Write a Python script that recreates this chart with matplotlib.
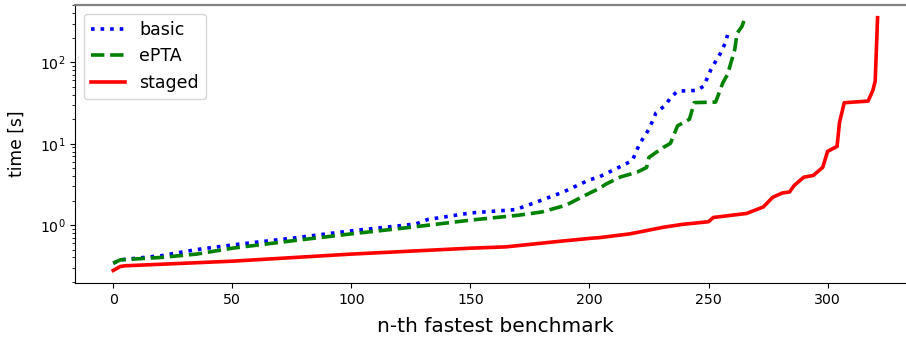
import matplotlib
matplotlib.use("Agg")
import matplotlib.pyplot as plt

# cactus plot: n-th fastest benchmark vs. runtime
basic_x = [0, 3, 20, 35, 50, 75, 100, 127, 132, 150, 169, 178, 189, 200, 204,
           211, 218, 221, 225, 228, 232, 234, 237, 245, 248, 251, 253, 255, 257, 258]
basic_t = [0.34, 0.374, 0.42, 0.50, 0.57, 0.69, 0.85, 1.03, 1.17, 1.41, 1.55, 1.93,
           2.55, 3.6, 3.9, 4.9, 6.2, 9.9, 15.1, 24.1, 29.9, 36.7, 44.3, 45.2, 51,
           81.5, 103, 129, 172, 217]

epta_x = [0, 3, 20, 35, 50, 75, 100, 125, 150, 170, 180, 190, 201, 204, 207, 213,
          220, 224, 225, 231, 234, 237, 242, 244, 253, 256, 258, 261, 262, 264, 265]
epta_t = [0.34, 0.374, 0.40, 0.44, 0.52, 0.64, 0.78, 0.94, 1.15, 1.32, 1.45, 1.75,
          2.55, 2.8, 3.2, 3.9, 4.47, 5.1, 6.8, 9.0, 10.1, 16.6, 20, 32, 32.5, 56,
          71, 143, 228, 275, 331]

staged_x = [0, 3, 5, 50, 100, 150, 165, 187, 201, 204, 217, 231, 239, 250, 252, 266,
            273, 277, 281, 284, 286, 290, 294, 298, 300, 304, 305, 307, 317, 319, 320, 321]
staged_t = [0.277, 0.31, 0.316, 0.36, 0.44, 0.52, 0.54, 0.63, 0.69, 0.70, 0.78, 0.94,
            1.02, 1.10, 1.24, 1.39, 1.67, 2.2, 2.48, 2.55, 3.07, 3.88, 4.07, 5.14, 8.05,
            9.27, 18.2, 31.9, 33.4, 45, 58.7, 354]

fig = plt.figure(figsize=(9.06, 3.37), dpi=100)
# right spine falls outside the picture in the original (cropped figure)
ax = fig.add_axes([0.0828, 0.160, 0.928, 0.825])

ax.plot(basic_x, basic_t, color="blue", linestyle=":", linewidth=2.6, label="basic")
ax.plot(epta_x, epta_t, color="green", linestyle="--", linewidth=2.6, label="ePTA")
ax.plot(staged_x, staged_t, color="red", linestyle="-", linewidth=2.6, label="staged")

ax.set_yscale("log")
ax.set_xlabel("n-th fastest benchmark", fontsize=14.5, labelpad=7)
ax.set_ylabel("time [s]", fontsize=12.3, labelpad=10)
ax.tick_params(labelsize=10.2)
ax.spines["top"].set_color("#808080")
ax.spines["top"].set_linewidth(1.6)
ax.legend(loc="upper left", fontsize=12.5)

fig.savefig("out.png", dpi=100)
